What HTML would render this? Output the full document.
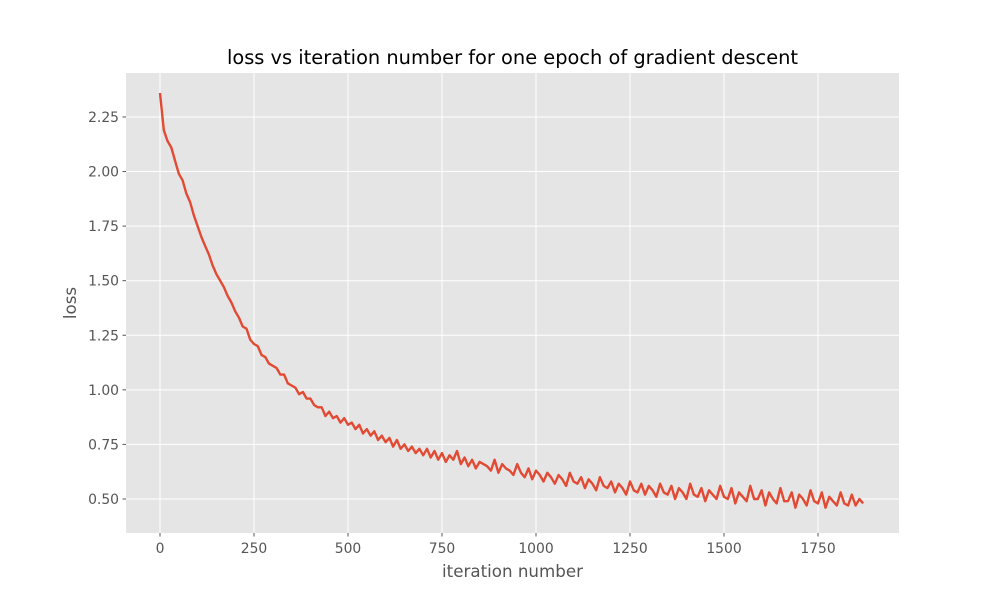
<!DOCTYPE html>
<html><head><meta charset="utf-8"><style>
body{margin:0;background:#fff;font-family:"Liberation Sans","DejaVu Sans",sans-serif;}
svg text{font-family:"DejaVu Sans","Liberation Sans",sans-serif;}
</style></head><body>
<svg id="chart" width="1000" height="600" xmlns="http://www.w3.org/2000/svg">
<rect x="0" y="0" width="1000" height="600" fill="#fff"/>
<rect x="126" y="73" width="773" height="460" fill="#e5e5e5"/>
<g id="grid"></g><g id="ticks"></g>
<polyline id="series" fill="none" stroke="#e24a33" stroke-width="2.4" stroke-linejoin="round"/>
<text x="512.5" y="64" font-size="19.4" text-anchor="middle" fill="#000">loss vs iteration number for one epoch of gradient descent</text>
<text x="512.5" y="577" font-size="16.7" text-anchor="middle" fill="#555">iteration number</text>
<text x="76" y="303" font-size="16.7" text-anchor="middle" fill="#555" transform="rotate(-90 76 303)">loss</text>
</svg>
<script>
const xTicks=[0,250,500,750,1000,1250,1500,1750];
const yTicks=[0.50,0.75,1.00,1.25,1.50,1.75,2.00,2.25];
const iterStep=10;
const lossValues=[2.36,2.19,2.14,2.11,2.05,1.99,1.96,1.90,1.86,1.80,1.75,1.70,1.66,1.62,1.57,1.53,1.50,1.47,1.43,1.40,1.36,1.33,1.29,1.28,1.23,1.21,1.20,1.16,1.15,1.12,1.11,1.10,1.07,1.07,1.03,1.02,1.01,0.98,0.99,0.96,0.96,0.93,0.92,0.92,0.88,0.90,0.87,0.88,0.85,0.87,0.84,0.85,0.82,0.84,0.80,0.82,0.79,0.81,0.77,0.79,0.76,0.78,0.74,0.77,0.73,0.75,0.72,0.74,0.71,0.73,0.70,0.73,0.69,0.72,0.68,0.71,0.67,0.70,0.68,0.72,0.66,0.69,0.65,0.68,0.64,0.67,0.66,0.65,0.63,0.68,0.62,0.66,0.64,0.63,0.61,0.66,0.62,0.60,0.64,0.59,0.63,0.61,0.58,0.62,0.60,0.57,0.61,0.59,0.56,0.62,0.58,0.57,0.60,0.55,0.59,0.57,0.54,0.60,0.56,0.55,0.58,0.53,0.57,0.55,0.52,0.58,0.54,0.53,0.57,0.52,0.56,0.54,0.51,0.57,0.53,0.52,0.56,0.50,0.55,0.53,0.50,0.57,0.52,0.51,0.55,0.49,0.54,0.52,0.50,0.56,0.51,0.50,0.55,0.48,0.53,0.51,0.49,0.56,0.50,0.50,0.54,0.47,0.53,0.50,0.48,0.55,0.49,0.49,0.53,0.46,0.52,0.50,0.47,0.54,0.49,0.48,0.53,0.46,0.51,0.49,0.47,0.53,0.48,0.47,0.52,0.47,0.50,0.48];
const X0=126,X1=899,Y0=73,Y1=533;
const xMin=-90.4,xMax=1965.4,yMin=0.3442,yMax=2.4514;
const sx=v=>X0+(v-xMin)/(xMax-xMin)*(X1-X0);
const sy=v=>Y1-(v-yMin)/(yMax-yMin)*(Y1-Y0);
const NS="http://www.w3.org/2000/svg";
const grid=document.getElementById('grid'),ticks=document.getElementById('ticks');
function mk(tag,attrs,parent){const e=document.createElementNS(NS,tag);for(const k in attrs)e.setAttribute(k,attrs[k]);parent.appendChild(e);return e;}
xTicks.forEach(t=>{
  const x=sx(t);
  const g=mk('line',{x1:x,x2:x,y1:Y0,y2:Y1,stroke:'#fff','stroke-width':1},grid);
  
  
  mk('line',{x1:x,x2:x,y1:Y1,y2:Y1+3.5,stroke:'#555','stroke-width':1},ticks);
  const tx=mk('text',{x:x,y:Y1+20,'font-size':13.9,'text-anchor':'middle',fill:'#555'},ticks);
  tx.textContent=t;
  
  
});
yTicks.forEach(t=>{
  const y=sy(t);
  const g=mk('line',{x1:X0,x2:X1,y1:y,y2:y,stroke:'#fff','stroke-width':1},grid);
  
  
  mk('line',{x1:X0-3.5,x2:X0,y1:y,y2:y,stroke:'#555','stroke-width':1},ticks);
  const tx=mk('text',{x:X0-7,y:y+5,'font-size':13.9,'text-anchor':'end',fill:'#555'},ticks);
  tx.textContent=t.toFixed(2);
  
  
});
document.getElementById('series').setAttribute('points',lossValues.map((v,i)=>sx(i*iterStep).toFixed(1)+','+sy(v).toFixed(1)).join(' '));
</script>
</body></html>
